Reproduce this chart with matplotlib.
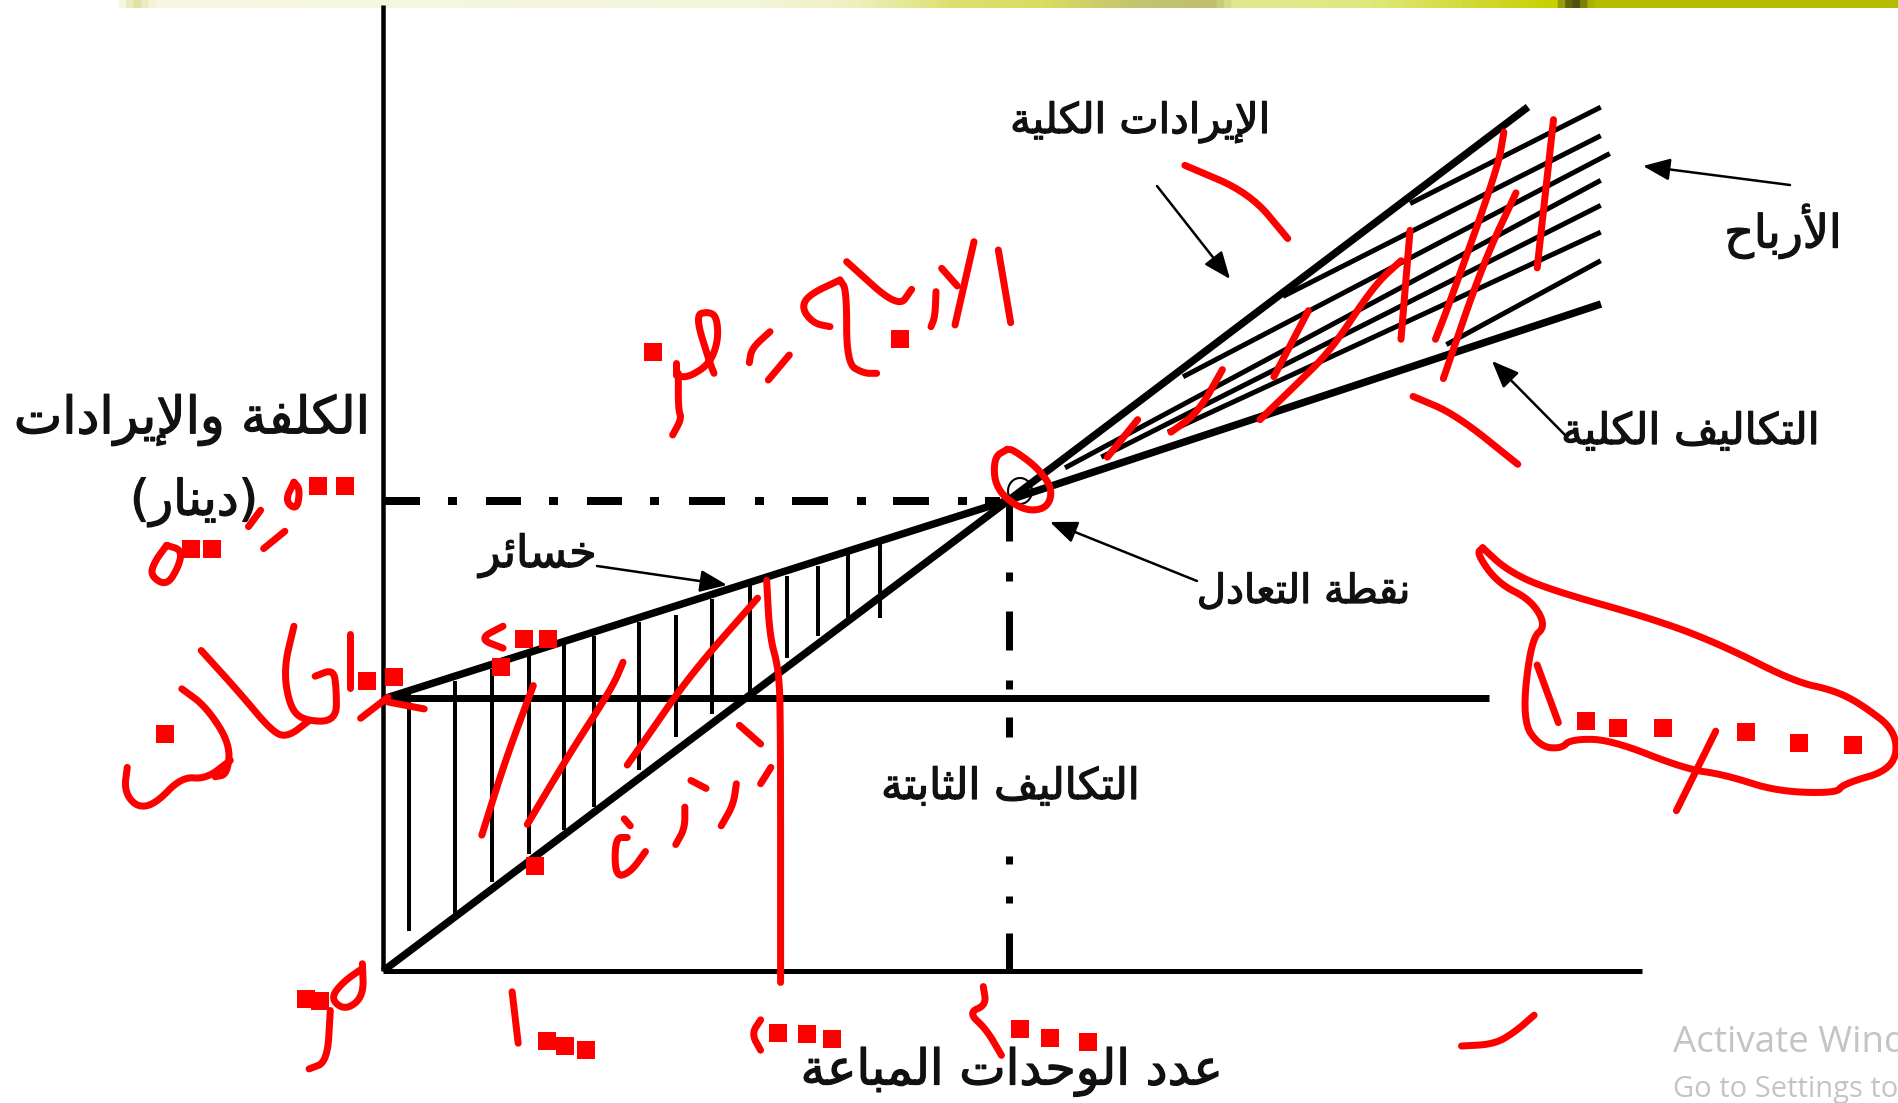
import numpy as np
import matplotlib
matplotlib.use("Agg")
import matplotlib.pyplot as plt
import matplotlib.patheffects as pe
from matplotlib.patches import Ellipse
from matplotlib.colors import LinearSegmentedColormap

# ---------- data (reference pixel space of the scanned sketch) ----------
W, H = 1899, 1103
origin = (383, 971)
breakeven = (1009, 500)
revenue_x = [383, 1009, 1528]
revenue_y = [971, 500, 107]
cost_x = [383, 1009, 1601]
cost_y = [699, 500, 304]
fixed_x = [383, 1489]
fixed_y = [698, 698]
axis_y_x = [383, 383]
axis_y_y = [5, 971]
axis_x_x = [383, 1642]
axis_x_y = [971, 971]
be_v_segments = [(500, 541), (572, 581), (611, 650), (680, 689), (717, 737),
                 (856, 864), (896, 903), (933, 971)]
be_h_segments = [(385, 420), (448, 457), (486, 521), (549, 558), (587, 622),
                 (650, 659), (689, 725), (755, 764), (792, 828), (857, 866),
                 (893, 929), (958, 967), (985, 1000)]

# loss hatch: x, top, bottom in zoom-1 coordinates
loss_x = [675, 750, 812, 873, 930, 980, 1055, 1115, 1175, 1238, 1298, 1350, 1400, 1452]
loss_top = [680, 665, 640, 610, 585, 570, 540, 525, 490, 460, 440, 420, 390, 370]
loss_bot = [1200, 1165, 1095, 1035, 985, 935, 855, 785, 735, 690, 615, 570, 540, 530]

# profit hatch in zoom-2 coordinates
profit_lines = [[(1075, 300), (760, 570)], [(1075, 380), (550, 830)],
                [(1090, 430), (385, 1055)], [(1075, 505), (190, 1310)],
                [(1075, 575), (250, 1280)], [(1075, 650), (360, 1210)],
                [(1075, 730), (820, 965)]]

arrows = [((597, 566), (727, 585)), ((1157, 186), (1230, 279)),
          ((1790, 185), (1643, 166)), ((1567, 437), (1492, 361)),
          ((1197, 581), (1050, 522))]

labels = [("الكلفة والإيرادات", 370, 420, 37), ("(دينار)", 258, 502, 35.5),
          ("الإيرادات الكلية", 1270, 122, 30), ("الأرباح", 1842, 231, 33),
          ("التكاليف الكلية", 1820, 432, 31), ("نقطة التعادل", 1410, 592, 29),
          ("التكاليف الثابتة", 1140, 787, 31), ("خسائر", 597, 556, 32),
          ("عدد الوحدات المباعة", 1222, 1072, 35.5)]

band_stops = [0, 0.06, 0.07, 0.08, 0.4, 0.45, 0.5, 0.55, 0.6, 0.64, 0.65, 0.72, 0.78, 0.82, 0.83, 0.84, 0.85, 1]
band_colors = ["#ffffff", "#ffffff", "#e0e0a0", "#f7f7e4", "#f3f5d8", "#eef0c0", "#dde070", "#d8dc60", "#c2c470",
               "#c0c070", "#e0e890", "#e0e880", "#d0d830", "#c8d000", "#404010", "#b4bc00", "#b4bc00", "#b4bc00"]

# red pen strokes, per zoom crop
z1_strokes = [
    [(485, 240), (470, 280), (490, 300), (495, 255), (485, 240)], [(410, 335), (430, 300)], [(435, 382), (470, 345)],
    [(275, 375), (255, 410), (248, 440), (275, 462), (295, 420), (300, 385), (275, 375)],
    [(485, 548), (468, 640), (478, 720), (500, 750), (555, 752), (555, 680), (550, 640), (520, 655)],
    [(577, 565), (577, 680)], [(595, 745), (640, 700)], [(640, 710), (700, 725)],
    [(332, 600), (395, 690), (450, 775), (475, 785), (510, 750)],
    [(300, 682), (340, 720), (380, 800), (375, 865), (355, 870)],
    [(210, 850), (205, 900), (225, 935), (255, 930), (300, 870), (340, 875), (380, 835)],
    [(880, 675), (835, 830), (795, 995)], [(1028, 625), (1010, 680), (940, 820), (870, 972)],
    [(1250, 488), (1140, 650), (1065, 790), (1035, 845)],
    [(1265, 450), (1270, 570), (1285, 640), (1288, 750), (1288, 1310)],
    [(1220, 760), (1255, 800)], [(1272, 850), (1255, 885)], [(1140, 878), (1165, 895)],
    [(1215, 885), (1210, 930), (1190, 975)], [(1130, 935), (1130, 980), (1115, 1015)],
    [(1030, 960), (1040, 975)], [(1065, 1030), (1040, 1075), (1015, 1085), (1015, 1000), (1035, 1000)],
    [(830, 548), (790, 575), (830, 595)],
    [(598, 1270), (600, 1340), (570, 1370), (545, 1345), (565, 1310), (598, 1280)],
    [(545, 1370), (540, 1480), (510, 1495)],
    [(845, 1330), (855, 1440)], [(1255, 1390), (1240, 1420), (1255, 1455)],
]
z1_dots = [(525, 248), (570, 248), (315, 382), (350, 382), (605, 665), (650, 657), (272, 778),
           (882, 1060), (826, 635), (865, 575), (905, 575), (505, 1345), (528, 1350), (903, 1435), (932, 1445),
           (967, 1455), (1283, 1418), (1332, 1420), (1372, 1430)]
z2_strokes = [
    [(388, 463), (495, 540), (558, 668)], [(765, 1110), (835, 1160), (938, 1300)],
    [(310, 1175), (260, 1280)], [(450, 1035), (410, 1155), (365, 1210)], [(592, 870), (535, 1055)],
    [(760, 645), (745, 950)], [(745, 730), (700, 800), (630, 980), (570, 1080), (512, 1175)],
    [(915, 370), (905, 470), (825, 850), (802, 950)], [(935, 540), (880, 740), (815, 1060)],
    [(997, 335), (970, 750)],
    [(95, 1258), (72, 1280), (75, 1370), (120, 1430), (160, 1425), (170, 1370), (145, 1310), (105, 1260), (95, 1258)],
]
z3_strokes = [
    [(55, 1255), (60, 1305), (30, 1325), (60, 1370), (85, 1440)],
    [(845, 1415), (900, 1410), (935, 1375), (965, 1332)],
    [(880, 75), (870, 90), (905, 170), (960, 215), (985, 285), (960, 320), (945, 540), (975, 610), (1010, 615),
     (1025, 590), (1090, 590), (1215, 670), (1280, 685), (1365, 730), (1465, 735), (1475, 710), (1560, 670),
     (1565, 570), (1505, 495), (1460, 458), (1395, 435), (1280, 340), (1170, 270), (985, 185), (920, 135), (880, 75)],
    [(970, 390), (1005, 545)], [(1265, 568), (1200, 782)],
]
z3_dots = [(115, 1370), (165, 1393), (228, 1405), (1050, 542), (1103, 560), (1178, 560), (1315, 570), (1402, 600), (1492, 605)]
z4_strokes = [
    [(1122, 125), (1065, 375)], [(1195, 150), (1232, 368)], [(1025, 205), (1072, 258)],
    [(1008, 275), (1005, 350), (993, 380)], [(740, 185), (895, 325), (935, 268)],
    [(720, 240), (625, 285), (605, 325), (640, 370), (690, 380)],
    [(720, 240), (740, 270), (740, 490), (790, 520), (830, 520)],
    [(510, 395), (455, 445), (448, 488)], [(568, 465), (505, 540)],
    [(228, 490), (228, 525)], [(235, 520), (235, 630), (245, 655), (218, 705)],
    [(235, 530), (270, 530), (330, 490), (355, 420), (350, 350), (325, 335), (285, 345), (330, 490), (342, 520)],
]
z4_dots = [(160, 455), (900, 418)]

# ---------- Arabic shaping: matplotlib has no shaper, so use presentation forms ----------
FORMS = {  # isolated, final, initial, medial
    'ء': (0xFE80,), 'أ': (0xFE83, 0xFE84), 'إ': (0xFE87, 0xFE88), 'ا': (0xFE8D, 0xFE8E),
    'ب': (0xFE8F, 0xFE90, 0xFE91, 0xFE92), 'ة': (0xFE93, 0xFE94),
    'ت': (0xFE95, 0xFE96, 0xFE97, 0xFE98), 'ث': (0xFE99, 0xFE9A, 0xFE9B, 0xFE9C),
    'ح': (0xFEA1, 0xFEA2, 0xFEA3, 0xFEA4),
    'خ': (0xFEA5, 0xFEA6, 0xFEA7, 0xFEA8), 'د': (0xFEA9, 0xFEAA), 'ر': (0xFEAD, 0xFEAE),
    'س': (0xFEB1, 0xFEB2, 0xFEB3, 0xFEB4), 'ط': (0xFEC1, 0xFEC2, 0xFEC3, 0xFEC4),
    'ع': (0xFEC9, 0xFECA, 0xFECB, 0xFECC), 'ف': (0xFED1, 0xFED2, 0xFED3, 0xFED4),
    'ق': (0xFED5, 0xFED6, 0xFED7, 0xFED8), 'ك': (0xFED9, 0xFEDA, 0xFEDB, 0xFEDC),
    'ل': (0xFEDD, 0xFEDE, 0xFEDF, 0xFEE0), 'م': (0xFEE1, 0xFEE2, 0xFEE3, 0xFEE4),
    'ن': (0xFEE5, 0xFEE6, 0xFEE7, 0xFEE8), 'ه': (0xFEE9, 0xFEEA, 0xFEEB, 0xFEEC),
    'و': (0xFEED, 0xFEEE), 'ي': (0xFEF1, 0xFEF2, 0xFEF3, 0xFEF4),
    'ئ': (0xFE89, 0xFE8A, 0xFE8B, 0xFE8C),
}
LAM_ALEF = {'ا': (0xFEFB, 0xFEFC), 'أ': (0xFEF7, 0xFEF8), 'إ': (0xFEF9, 0xFEFA)}


def shape(s):
    out = []
    prev_joins = False
    i = 0
    while i < len(s):
        c = s[i]
        if c not in FORMS:
            out.append({'(': ')', ')': '('}.get(c, c))
            prev_joins = False
            i += 1
            continue
        if c == 'ل' and i + 1 < len(s) and s[i + 1] in LAM_ALEF:
            out.append(chr(LAM_ALEF[s[i + 1]][1 if prev_joins else 0]))
            prev_joins = False
            i += 2
            continue
        f = FORMS[c]
        next_ok = i + 1 < len(s) and s[i + 1] in FORMS
        can_next = len(f) == 4 and next_ok
        if prev_joins and can_next:
            g = f[3]
        elif prev_joins:
            g = f[1]
        elif can_next:
            g = f[2]
        else:
            g = f[0]
        out.append(chr(g))
        prev_joins = can_next
        i += 1
    return ''.join(reversed(out))


# ---------- drawing ----------
fig = plt.figure(figsize=(W / 100, H / 100), dpi=100)
ax = fig.add_axes([0, 0, 1, 1])
ax.set_xlim(0, W)
ax.set_ylim(H, 0)
ax.axis('off')
PX = 0.72


def conv(pts, ox, oy, sx, sy):
    return [(ox + x / sx, oy + y / sy) for x, y in pts]


def round_pen(pts, n=3):
    """Corner-cutting so a pen stroke reads as a curve, not a polygon."""
    p = np.asarray(pts, float)
    if len(p) < 3:
        return p
    for _ in range(n):
        q = [p[0]]
        for a, b in zip(p[:-1], p[1:]):
            q += [0.75 * a + 0.25 * b, 0.25 * a + 0.75 * b]
        q.append(p[-1])
        p = np.array(q)
    return p


Z1 = (0, 370, 1.65, 2.139)
Z2 = (950, 0, 1.652, 2.8)
Z3 = (950, 520, 1.652, 2.69)
Z4 = (600, 200, 3, 3)

band = LinearSegmentedColormap.from_list("band", list(zip(band_stops, band_colors)))
ax.imshow(np.linspace(0, 1, 1024)[None, :], extent=(0, W, 8, 0), cmap=band, aspect='auto', zorder=1)
ax.set_xlim(0, W)
ax.set_ylim(H, 0)

k = dict(color='black', solid_capstyle='butt', zorder=2)
ax.plot(axis_y_x, axis_y_y, lw=4.5 * PX, **k)
ax.plot(axis_x_x, axis_x_y, lw=5 * PX, **k)
ax.plot(revenue_x, revenue_y, lw=7.5 * PX, **k)
ax.plot(cost_x, cost_y, lw=7.5 * PX, **k)
ax.plot(fixed_x, fixed_y, lw=7 * PX, **k)
for a, b in be_v_segments:
    ax.plot([breakeven[0]] * 2, [a, b], lw=7 * PX, **k)
for a, b in be_h_segments:
    ax.plot([a, b], [501, 501], lw=8 * PX, **k)
for x, t, b in zip(loss_x, loss_top, loss_bot):
    p = conv([(x, t), (x, b)], *Z1)
    ax.plot(*zip(*p), lw=4 * PX, **k)
for ln in profit_lines:
    p = conv(ln, *Z2)
    ax.plot(*zip(*p), lw=5 * PX, **k)
ax.add_patch(Ellipse((1020, 491), 24, 26, fill=False, ec='black', lw=1.5, zorder=2))
for s, e in arrows:
    ax.annotate('', xy=e, xytext=s, zorder=3,
                arrowprops=dict(arrowstyle='-|>,head_length=1.1,head_width=0.45', color='black', lw=1.8,
                                shrinkA=0, shrinkB=0, mutation_scale=15))

for text, x, y, size in labels:
    ax.text(x, y, shape(text), ha='right', va='center', fontsize=size, color='#111111',
            family='DejaVu Sans', zorder=4,
            path_effects=[pe.withStroke(linewidth=0.9, foreground='#111111')])

ax.text(1673, 1043, "Activate Windows", fontsize=26.5, color='#c4c4c4', family='Open Sans',
        va='center', ha='left', zorder=4, clip_on=True)
ax.text(1673, 1089, "Go to Settings to activate Windows.", fontsize=21, color='#c4c4c4', family='Open Sans',
        va='center', ha='left', zorder=4, clip_on=True)

for strokes, z in ((z1_strokes, Z1), (z2_strokes, Z2), (z3_strokes, Z3), (z4_strokes, Z4)):
    for st in strokes:
        p = round_pen(conv(st, *z))
        ax.plot(p[:, 0], p[:, 1], color='#ff0000', lw=7 * PX, solid_capstyle='round',
                solid_joinstyle='round', zorder=5)
for dots, z in ((z1_dots, Z1), (z3_dots, Z3), (z4_dots, Z4)):
    p = conv(dots, *z)
    ax.plot(*zip(*p), ls='none', marker='s', ms=18 * PX, color='#ff0000', mew=0, zorder=5)

fig.savefig('out.png', dpi=100, facecolor='white')
